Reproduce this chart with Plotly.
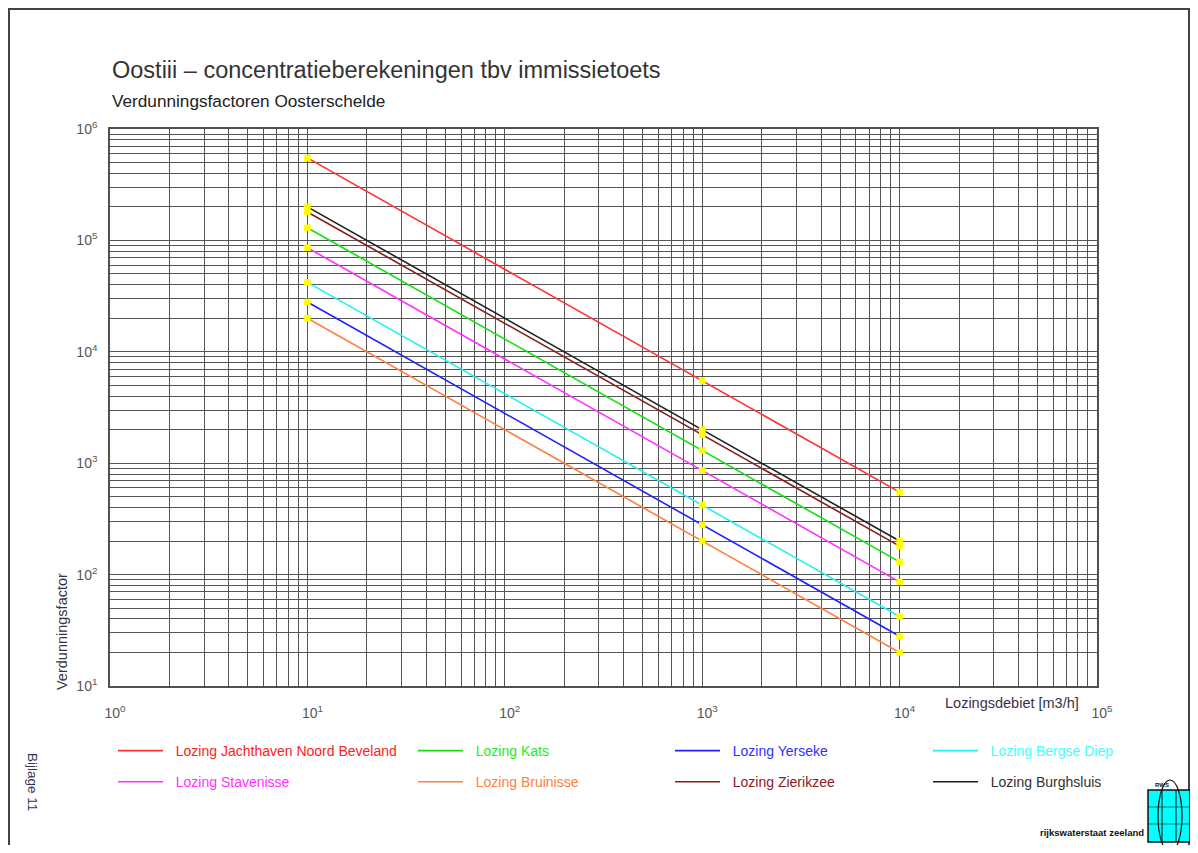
import plotly.graph_objects as go

# ---- data ----
debiet = [10, 1000, 10000]  # Lozingsdebiet [m3/h]
series_names = [
    "Lozing Jachthaven Noord Beveland", "Lozing Kats", "Lozing Yerseke", "Lozing Bergse Diep",
    "Lozing Stavenisse", "Lozing Bruinisse", "Lozing Zierikzee", "Lozing Burghsluis",
]
jachthaven = [550000, 5500, 550]
kats = [130000, 1300, 130]
yerseke = [28000, 280, 28]
bergse_diep = [42000, 420, 42]
stavenisse = [86000, 860, 86]
bruinisse = [20000, 200, 20]
zierikzee = [180000, 1800, 180]
burghsluis = [200000, 2000, 200]
series_values = [jachthaven, kats, yerseke, bergse_diep, stavenisse, bruinisse, zierikzee, burghsluis]
line_colors = ["#ff3030", "#10e010", "#2020ff", "#20f0f0", "#ff30ff", "#ff8040", "#8b1a1a", "#202020"]
text_colors = ["#ff2020", "#20ee20", "#3030ff", "#40ffff", "#ff30ff", "#ff8040", "#8b1a1a", "#303030"]
legend_ids = ["legend", "legend2", "legend3", "legend4", "legend", "legend2", "legend3", "legend4"]
x_ticks = [1, 10, 100, 1000, 10000, 100000]
x_ticklabels = ["10<sup>0</sup>", "10<sup>1</sup>", "10<sup>2</sup>", "10<sup>3</sup>", "10<sup>4</sup>", "10<sup>5</sup>"]
y_ticks = [10, 100, 1000, 10000, 100000, 1000000]
y_ticklabels = ["10<sup>1</sup>", "10<sup>2</sup>", "10<sup>3</sup>", "10<sup>4</sup>", "10<sup>5</sup>", "10<sup>6</sup>"]

# ---- geometry helpers (page pixel -> paper); page has an 8px body margin ----
OFF = 8
L, R, T, B = 110, 1097, 129, 686      # plot area in page pixels
W, H = 1182, 837                       # figure size
def px(x):
    return (x - L) / (R - L)
def py(y):
    return (B - y) / (B - T)

fig = go.Figure()
order = [0, 4, 1, 5, 2, 6, 3, 7]
for i in order:
    fig.add_trace(go.Scatter(
        x=debiet, y=series_values[i], mode="lines",
        name='<span style="color:%s">&nbsp;&nbsp;%s</span>' % (text_colors[i], series_names[i]),
        line=dict(color=line_colors[i], width=1.6),
        legend=legend_ids[i], legendgroup=series_names[i],
    ))
for i in range(len(series_values)):
    fig.add_trace(go.Scatter(
        x=debiet, y=series_values[i], mode="markers", showlegend=False,
        marker=dict(color="#ffff00", size=6.5, symbol="square"),
        hoverinfo="skip",
    ))

font_family = "Liberation Sans, Arial, sans-serif"
grid_c = "#555555"
axis_common = dict(
    type="log", showgrid=True, gridcolor=grid_c, gridwidth=1.4,
    showline=True, mirror=True, linecolor="#505050", linewidth=1.6,
    zeroline=False, ticks="",
    minor=dict(dtick="D1", showgrid=True, gridcolor=grid_c, gridwidth=1.4, ticks=""),
    tickfont=dict(family=font_family, size=14, color="#555555"),
)
fig.update_xaxes(range=[0, 5], tickmode="array", tickvals=x_ticks, ticktext=x_ticklabels,
                 ticklabelstandoff=13, ticklabelshift=5, **axis_common)
fig.update_yaxes(range=[1, 6], tickmode="array", tickvals=y_ticks, ticktext=y_ticklabels,
                 ticklabelstandoff=8, **axis_common)

leg_common = dict(
    orientation="v", yanchor="top", bgcolor="rgba(0,0,0,0)",
    font=dict(family=font_family, size=14), traceorder="grouped", tracegroupgap=10,
    itemwidth=45,
)
col_x = [118, 418, 675]
layout_legends = {}
for k, lid in enumerate(["legend", "legend2", "legend3"]):
    layout_legends[lid] = dict(x=px(col_x[k] - 5), y=py(735), xanchor="left", **leg_common)
layout_legends["legend4"] = dict(x=px(1119), y=py(735), xanchor="right", **leg_common)

ann = [
    dict(text="Oostiii \u2013 concentratieberekeningen tbv immissietoets", x=px(110), y=py(70),
         xanchor="left", yanchor="middle", font=dict(size=23.5, color="#333333", family=font_family)),
    dict(text="Verdunningsfactoren Oosterschelde", x=px(110), y=py(101),
         xanchor="left", yanchor="middle", font=dict(size=17.2, color="#222222", family=font_family)),
    dict(text="Verdunningsfactor", x=px(62), y=py(632), textangle=-90,
         xanchor="center", yanchor="middle", font=dict(size=14.5, color="#334", family=font_family)),
    dict(text="Lozingsdebiet [m3/h]", x=px(1012), y=py(703),
         xanchor="center", yanchor="middle", font=dict(size=14.5, color="#334", family=font_family)),
    dict(text="Bijlage 11", x=px(33), y=py(782), textangle=90,
         xanchor="center", yanchor="middle", font=dict(size=13.5, color="#335", family=font_family)),
    dict(text="<b>rijkswaterstaat zeeland</b>", x=px(1146), y=py(832),
         xanchor="right", yanchor="middle", font=dict(size=9.5, color="#111111", family=font_family)),
    dict(text="<b>RWS</b>", x=px(1162), y=py(785),
         xanchor="center", yanchor="middle", font=dict(size=6, color="#111111", family=font_family)),
]
for a in ann:
    a.update(xref="paper", yref="paper", showarrow=False)

shapes = [
    # page border
    dict(type="rect", x0=px(9), x1=px(1189), y0=py(9), y1=py(900), line=dict(color="#444444", width=2)),
    # logo
    dict(type="rect", x0=px(1148), x1=px(1190), y0=py(790), y1=py(842),
         fillcolor="#00ffff", line=dict(color="#111111", width=1.5)),
    dict(type="line", x0=px(1162), x1=px(1162), y0=py(790), y1=py(842), line=dict(color="#111", width=1)),
    dict(type="line", x0=px(1176), x1=px(1176), y0=py(790), y1=py(842), line=dict(color="#111", width=1)),
    dict(type="line", x0=px(1148), x1=px(1190), y0=py(807), y1=py(807), line=dict(color="#111", width=0.6)),
    dict(type="line", x0=px(1148), x1=px(1190), y0=py(824), y1=py(824), line=dict(color="#111", width=0.6)),
    dict(type="circle", x0=px(1158), x1=px(1182), y0=py(780), y1=py(852), line=dict(color="#111", width=1.2)),
]
for s in shapes:
    s.update(xref="paper", yref="paper", layer="above")

fig.update_layout(
    width=W, height=H, autosize=False,
    margin=dict(l=L - OFF, r=W - (R - OFF), t=T - OFF, b=H - (B - OFF)),
    paper_bgcolor="white", plot_bgcolor="white",
    annotations=ann, shapes=shapes, showlegend=True,
    font=dict(family=font_family),
    **layout_legends,
)
fig.write_html("out.html")
